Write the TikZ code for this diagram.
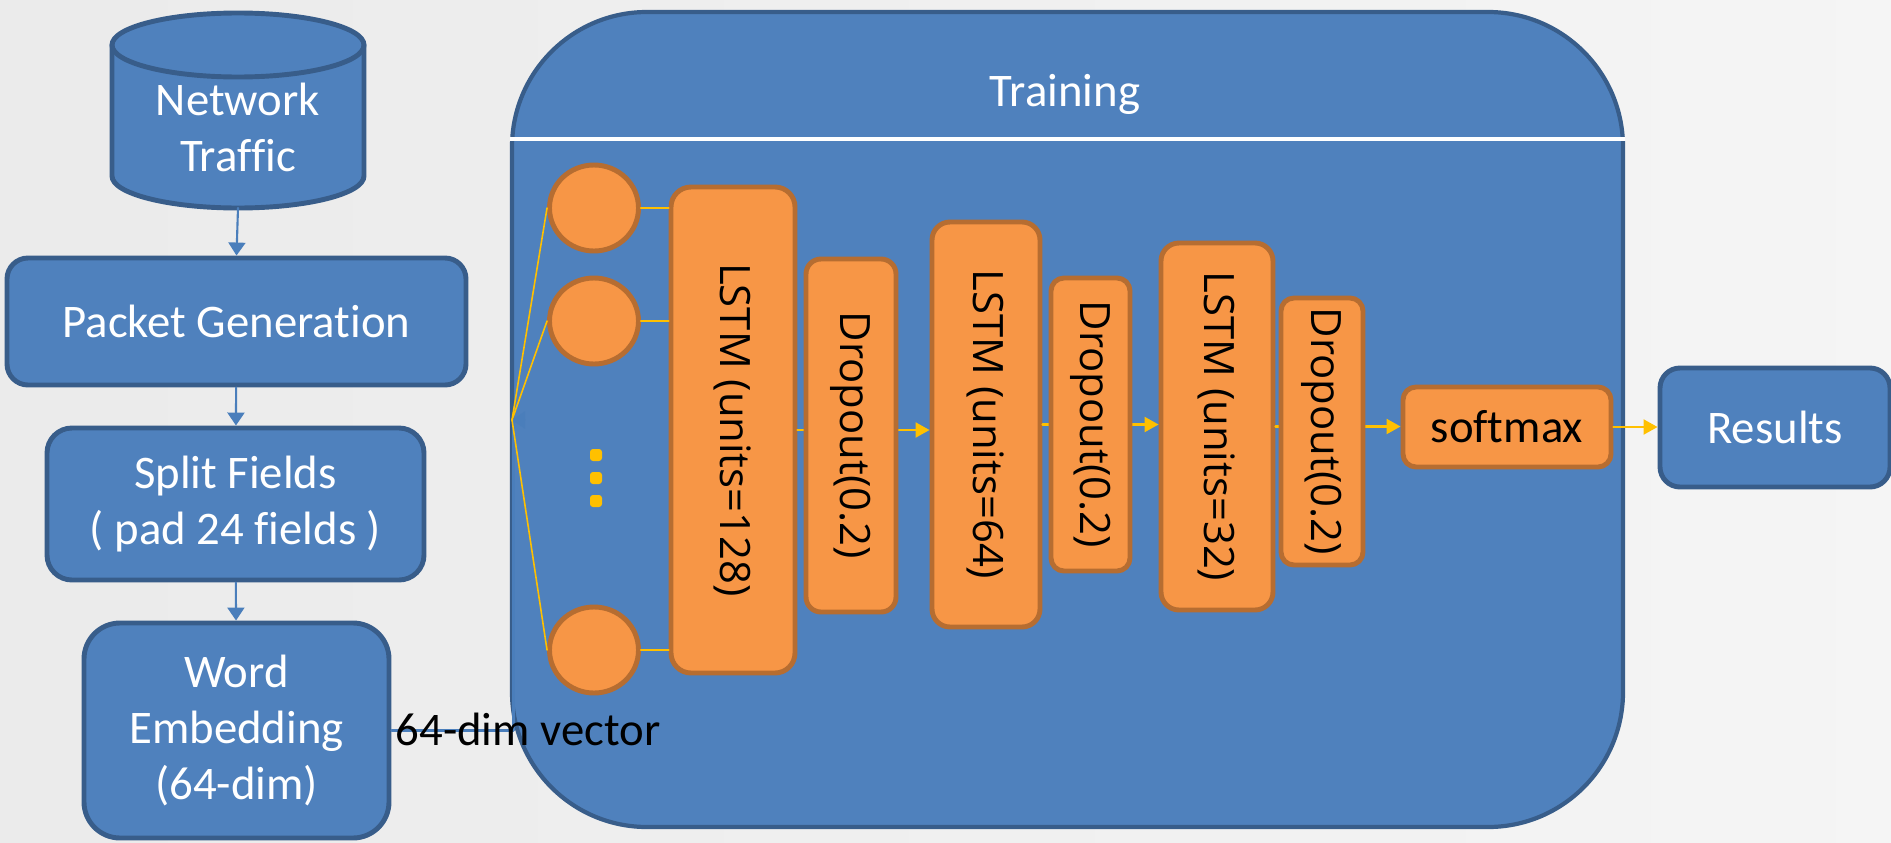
\documentclass[tikz,border=0pt]{standalone}
\usepackage{fontspec}
\setmainfont{Carlito}[Ligatures=NoCommon]
\newfontfamily\layerfont{Open Sans}
\usepackage{graphicx}
\usetikzlibrary{shapes.geometric, arrows.meta}

\definecolor{boxblue}{HTML}{4F81BD}
\definecolor{edgeblue}{HTML}{385D8A}
\definecolor{lineblue}{HTML}{4A7EBB}
\definecolor{boxorange}{HTML}{F79646}
\definecolor{edgeorange}{HTML}{B66D31}
\definecolor{linegold}{HTML}{FFC000}

\begin{document}
\begin{tikzpicture}[line cap=round, line join=round, x=1cm, y=1cm,
                font=\fontsize{13.3}{16}\selectfont,
                bluebox/.style={draw=edgeblue, line width=1.4pt, fill=boxblue, text=white, align=center, inner sep=0pt},
                orangebox/.style={draw=edgeorange, line width=1.4pt, fill=boxorange, text=black, align=center, inner sep=0pt},
                layertext/.style={font=\layerfont\fontsize{11.9}{14}\selectfont},
                blueline/.style={draw=lineblue, line width=0.6pt, -{Triangle[width=0.17cm, length=0.13cm]}},
                goldline/.style={draw=linegold, line width=0.6pt},
                goldarrow/.style={goldline, -{Triangle[width=0.15cm, length=0.14cm]}}]

                \useasboundingbox (0,0) rectangle (18.91,8.42);
                \shade[left color=black!8, middle color=white, right color=black!4] (0,0) rectangle (18.91,8.42);

                \node (training) [bluebox, line width=1.2pt, rounded corners=1.35cm, minimum width=11.11cm, minimum height=8.15cm] at (10.675,4.225) {};
                \draw[white, line width=1pt, line cap=butt] (training.west |- 0,7.03) -- (training.east |- 0,7.03);
                \node (title) [text=white] at (10.65,7.48) {Training};

                \draw[draw=edgeblue, line width=1.4pt, fill=boxblue] (1.12,7.97) -- (1.12,6.66) arc[start angle=180, end angle=360, x radius=1.26, y radius=0.32] -- (3.64,7.97) arc[start angle=0, end angle=180, x radius=1.26, y radius=0.32] -- cycle;
                \draw[draw=edgeblue, line width=1.4pt] (1.12,7.97) arc[start angle=180, end angle=360, x radius=1.26, y radius=0.32];
                \node (traffic) [text=white, align=center] at (2.38,7.145) {Network\\Traffic};
                \coordinate (trafficbot) at (2.38,6.34);

                \node (packet) [bluebox, rounded corners=0.21cm, minimum width=4.59cm, minimum height=1.27cm] at (2.365,5.205) {Packet Generation};
                \node (split) [bluebox, rounded corners=0.25cm, minimum width=3.77cm, minimum height=1.52cm] at (2.355,3.38) {Split Fields\\( pad 24 fields )};
                \node (embed) [bluebox, rounded corners=0.36cm, minimum width=3.05cm, minimum height=2.15cm] at (2.365,1.115) {Word\\Embedding\\(64-dim)};

                \draw[blueline] (trafficbot) -- (packet.north);
                \draw[blueline] (packet) -- (split);
                \draw[blueline] (split) -- (embed);

                \coordinate (fan) at (5.12,4.22);
                \draw[blueline] (embed.east) -- ++(1.22,0) |- (fan);
                \node (vec) [anchor=base west, inner sep=0pt, text=black] at (3.95,0.97) {64-dim vector};

                \foreach \name/\y in {cellA/6.34, cellB/5.21, cellC/1.92}
                    \node (\name) [orangebox, ellipse, minimum width=0.89cm, minimum height=0.86cm] at (5.94,\y) {};
                \foreach \y [count=\i] in {3.87, 3.64, 3.41}
                    \node (dot\i) [fill=linegold, rounded corners=0.03cm, minimum size=0.12cm, inner sep=0pt] at (5.96,\y) {};
                \foreach \name in {cellA, cellB, cellC}
                    \draw[goldline, line width=0.45pt] (fan) -- (\name.west);

                \node (lstmA) [orangebox, layertext, rounded corners=0.2cm, minimum width=1.24cm, minimum height=4.86cm] at (7.33,4.12) {\rotatebox{-90}{LSTM (units=128)}};
                \node (lstmB) [orangebox, layertext, rounded corners=0.18cm, minimum width=1.08cm, minimum height=4.05cm] at (9.86,4.175) {\rotatebox{-90}{LSTM (units=64)}};
                \node (lstmC) [orangebox, layertext, rounded corners=0.18cm, minimum width=1.12cm, minimum height=3.67cm] at (12.17,4.155) {\rotatebox{-90}{LSTM (units=32)}};
                \node (soft) [orangebox, rounded corners=0.13cm, minimum width=2.08cm, minimum height=0.8cm] at (15.07,4.15) {softmax};

                \foreach \name in {cellA, cellB, cellC}
                    \draw[goldline] (\name.east) -- (\name.east -| lstmA.west);

                \draw[goldarrow] (lstmA.east) -- (lstmA.east -| lstmB.west);
                \draw[goldarrow] (lstmB.east) -- (lstmB.east -| lstmC.west);
                \draw[goldarrow] (lstmC.east) -- (lstmC.east -| soft.west);

                \node (dropA) [orangebox, layertext, rounded corners=0.15cm, minimum width=0.9cm, minimum height=3.53cm] at (8.51,4.065) {\rotatebox{-90}{Dropout(0.2)}};
                \node (dropB) [orangebox, layertext, rounded corners=0.13cm, minimum width=0.79cm, minimum height=2.93cm] at (10.905,4.175) {\rotatebox{-90}{Dropout(0.2)}};
                \node (dropC) [orangebox, layertext, rounded corners=0.13cm, minimum width=0.82cm, minimum height=2.67cm] at (13.22,4.105) {\rotatebox{-90}{Dropout(0.2)}};

                \node (result) [bluebox, rounded corners=0.2cm, minimum width=2.3cm, minimum height=1.19cm] at (17.75,4.145) {Results};
                \draw[goldarrow] (soft.east) -- (soft.east -| result.west);

            \end{tikzpicture}
\end{document}
